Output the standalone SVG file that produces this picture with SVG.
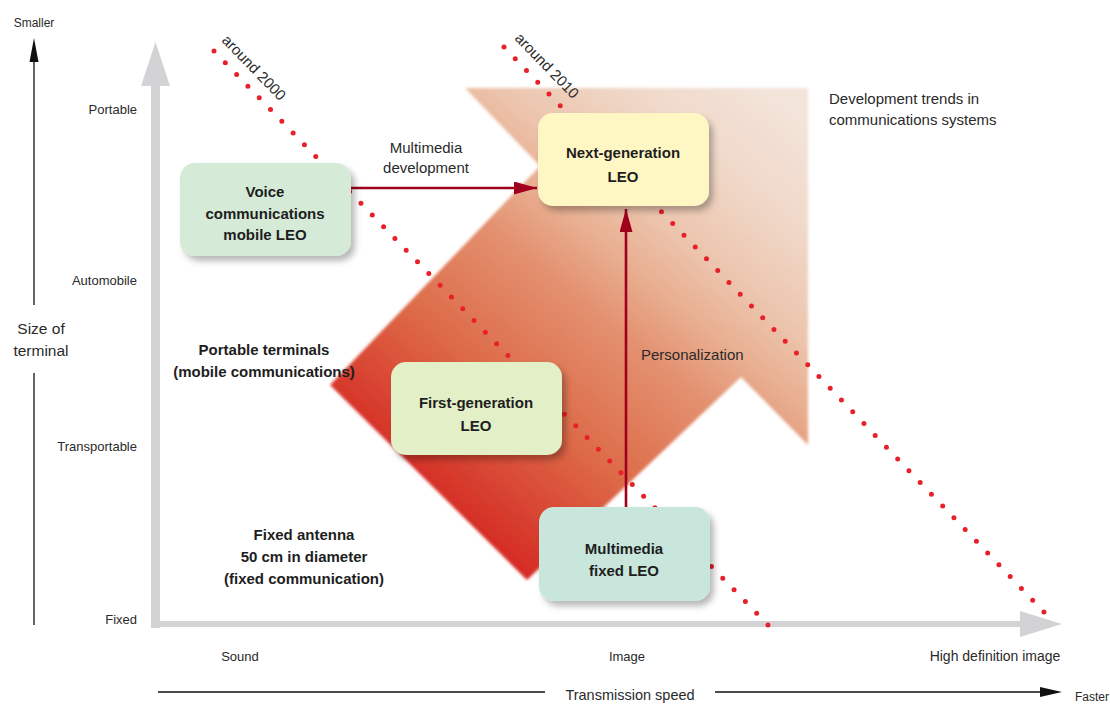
<svg xmlns="http://www.w3.org/2000/svg" width="1110" height="705" viewBox="0 0 1110 705">
<defs>
<style>
text{font-family:"Liberation Sans",Arial,sans-serif;fill:#2a2a2a}
.ax{font-size:13px}
.lbl{font-size:15px}
.b{font-size:15px;font-weight:bold;fill:#1e1e1e}
.box{stroke:none}
.dots{fill:none;stroke:#e8202a;stroke-width:5;stroke-linecap:round;stroke-dasharray:0 16.28}
.conn{stroke:#a0001c;stroke-width:2.6;fill:none}
.gray{fill:#d3d3d6}
</style>
<linearGradient id="ag" gradientUnits="userSpaceOnUse" x1="400" y1="520" x2="760" y2="80">
<stop offset="0" stop-color="#d31a1f"/>
<stop offset="0.12" stop-color="#d73a2c"/>
<stop offset="0.3" stop-color="#dd6a48"/>
<stop offset="0.5" stop-color="#e39170"/>
<stop offset="0.6" stop-color="#e8ae90"/>
<stop offset="0.7" stop-color="#ecc5ae"/>
<stop offset="0.85" stop-color="#f0d9ca"/>
<stop offset="1" stop-color="#f3e4da"/>
</linearGradient>
<filter id="sh" x="-20%" y="-20%" width="150%" height="150%">
<feDropShadow dx="4" dy="5" stdDeviation="3" flood-color="#000" flood-opacity="0.28"/>
</filter>
<filter id="soft" x="-5%" y="-5%" width="110%" height="110%">
<feGaussianBlur stdDeviation="1.5"/>
</filter>
<marker id="ah" viewBox="0 0 23 13" refX="23" refY="6.5" markerWidth="23" markerHeight="13" markerUnits="userSpaceOnUse" orient="auto">
<path d="M0,0 L23,6.5 L0,13 Z" fill="#a0001c"/>
</marker>
</defs>
<rect width="1110" height="705" fill="#ffffff"/>

<!-- big trend arrow -->
<path d="M465,88 L808,88 L808,445 L741,377 L527,580 L330,385 L540,166 Z" fill="url(#ag)" filter="url(#soft)"/>

<!-- axes -->
<rect class="gray" x="151" y="80" width="9" height="548"/>
<polygon class="gray" points="141,86 155.5,42 170,86"/>
<rect class="gray" x="151" y="621" width="872" height="6"/>
<polygon class="gray" points="1020,611 1062,624 1020,637"/>

<g id="left-axis">
<line x1="34" y1="60" x2="34" y2="305" stroke="#111" stroke-width="1.3"/>
<line x1="34" y1="373" x2="34" y2="625" stroke="#111" stroke-width="1.3"/>
<polygon points="29.5,62 34,38 38.5,62" fill="#111"/>
<text x="34" y="27" font-size="12" text-anchor="middle">Smaller</text>
<text x="41" y="334" font-size="15.5" text-anchor="middle">Size of</text>
<text x="41" y="356" font-size="15.5" text-anchor="middle">terminal</text>
<text class="ax" x="137" y="114" text-anchor="end">Portable</text>
<text class="ax" x="137" y="285" text-anchor="end">Automobile</text>
<text class="ax" x="137" y="451" text-anchor="end">Transportable</text>
<text class="ax" x="137" y="624" text-anchor="end">Fixed</text>
</g>

<g id="bottom-axis">
<text class="ax" x="240" y="661" text-anchor="middle">Sound</text>
<text class="ax" x="627" y="661" text-anchor="middle">Image</text>
<text x="995" y="661" font-size="14" text-anchor="middle">High definition image</text>
<line x1="158" y1="692" x2="545" y2="692" stroke="#111" stroke-width="1.3"/>
<line x1="715" y1="692" x2="1044" y2="692" stroke="#111" stroke-width="1.3"/>
<polygon points="1040,687 1062,692 1040,697" fill="#111"/>
<text x="630" y="700" font-size="14.5" text-anchor="middle">Transmission speed</text>
<text x="1075" y="701" font-size="12">Faster</text>
</g>

<!-- time lines -->
<g id="timeline-2000">
<line class="dots" x1="214" y1="51" x2="768" y2="625"/>
<text class="lbl" font-size="15.5" transform="translate(221,41) rotate(46)">around 2000</text>
</g>
<g id="timeline-2010">
<line class="dots" x1="504" y1="47" x2="1044" y2="612"/>
<text class="lbl" font-size="15.5" transform="translate(514,39) rotate(46)">around 2010</text>
</g>

<!-- free labels -->
<text class="b" x="264" y="355" text-anchor="middle">Portable terminals</text>
<text class="b" x="264" y="377" text-anchor="middle">(mobile communications)</text>
<text class="b" x="304" y="540" text-anchor="middle">Fixed antenna</text>
<text class="b" x="304" y="562" text-anchor="middle">50 cm in diameter</text>
<text class="b" x="304" y="584" text-anchor="middle">(fixed communication)</text>
<text class="lbl" x="829" y="104">Development trends in</text>
<text class="lbl" x="829" y="125">communications systems</text>

<!-- connectors -->
<g id="connectors">
<line class="conn" x1="351" y1="188" x2="537" y2="188" marker-end="url(#ah)"/>
<line class="conn" x1="626" y1="507" x2="626" y2="209" marker-end="url(#ah)"/>
<text class="lbl" x="426" y="153" text-anchor="middle">Multimedia</text>
<text class="lbl" x="426" y="173" text-anchor="middle">development</text>
<text class="lbl" x="641" y="360">Personalization</text>
</g>

<!-- nodes -->
<g id="voice-leo">
<rect class="box" x="180" y="163" width="171" height="93" rx="15" fill="#d5ebd8" filter="url(#sh)"/>
<text class="b" x="265" y="197" text-anchor="middle">Voice</text>
<text class="b" x="265" y="219" text-anchor="middle">communications</text>
<text class="b" x="265" y="240" text-anchor="middle">mobile LEO</text>
</g>
<g id="next-gen-leo">
<rect class="box" x="538" y="113" width="171" height="93" rx="15" fill="#fef7c4" filter="url(#sh)"/>
<text class="b" x="623" y="158" text-anchor="middle">Next-generation</text>
<text class="b" x="623" y="182" text-anchor="middle">LEO</text>
</g>
<g id="first-gen-leo">
<rect class="box" x="391" y="362" width="171" height="93" rx="15" fill="#e3efc6" filter="url(#sh)"/>
<text class="b" x="476" y="408" text-anchor="middle">First-generation</text>
<text class="b" x="476" y="431" text-anchor="middle">LEO</text>
</g>
<g id="multimedia-fixed-leo">
<rect class="box" x="539" y="507" width="171" height="94" rx="15" fill="#c8e6dc" filter="url(#sh)"/>
<text class="b" x="624" y="554" text-anchor="middle">Multimedia</text>
<text class="b" x="624" y="576" text-anchor="middle">fixed LEO</text>
</g>
</svg>
